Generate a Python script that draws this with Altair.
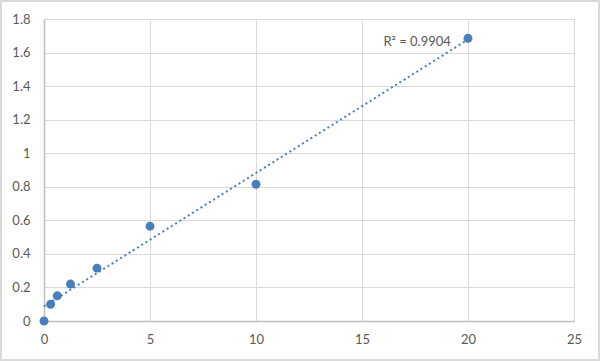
import altair as alt
import pandas as pd

conc = [0, 0.3125, 0.625, 1.25, 2.5, 5, 10, 20]
od = [0.0, 0.10, 0.15, 0.22, 0.315, 0.565, 0.815, 1.685]
x_ticks = [0, 5, 10, 15, 20, 25]
y_ticks = [0, 0.2, 0.4, 0.6, 0.8, 1.0, 1.2, 1.4, 1.6, 1.8]
r2_label = ["R² = 0.9904"]
r2_pos_x = [17.6]
r2_pos_y = [1.665]

df = pd.DataFrame({"x": conc, "y": od})
lab = pd.DataFrame({"x": r2_pos_x, "y": r2_pos_y, "t": r2_label})

W, H = 530, 302
blue = "#4a7ebb"
font = "Lato"

xs = alt.Scale(domain=[0, 25], nice=False)
ys = alt.Scale(domain=[0, 1.8], nice=False)

xax = alt.Axis(values=x_ticks, title=None, grid=True, gridColor="#d9d9d9", domainColor="#bfbfbf",
               domainWidth=1.5, ticks=False, labelColor="#595959", labelFont=font, labelFontSize=13,
               labelPadding=12, labelOverlap=False, labelFlush=False)
yax = alt.Axis(values=y_ticks, title=None, grid=True, gridColor="#d9d9d9", domainColor="#bfbfbf",
               domainWidth=1.5, ticks=False, labelColor="#595959", labelFont=font, labelFontSize=13,
               labelPadding=14, format="~g", labelOverlap=False, labelFlush=False)

X = alt.X("x:Q", scale=xs, axis=xax)
Y = alt.Y("y:Q", scale=ys, axis=yax)

base = alt.Chart(df)

trend = base.transform_regression("x", "y", method="linear").mark_line(
    color=blue, strokeWidth=2, strokeDash=[2, 3]
).encode(x=X, y=Y)

pts = base.mark_circle(color=blue, opacity=1, size=80).encode(x=X, y=Y)

txt = alt.Chart(lab).mark_text(font=font, fontSize=13, color="#595959", align="center").encode(
    x=X, y=Y, text="t:N"
)

border = alt.Chart(pd.DataFrame({"a": [0]})).mark_rect(
    fill=None, stroke="#d9d9d9", strokeWidth=2
).encode(x=alt.value(-43), x2=alt.value(W + 25), y=alt.value(-18), y2=alt.value(H + 39))

chart = alt.layer(border, trend, pts, txt).properties(
    width=W, height=H,
    padding={"left": 44, "top": 19, "right": 26, "bottom": 40},
    autosize="none",
).configure_view(stroke=None).configure(background="white")

chart.save("out.html", embed_options={"renderer": "svg", "actions": False})
